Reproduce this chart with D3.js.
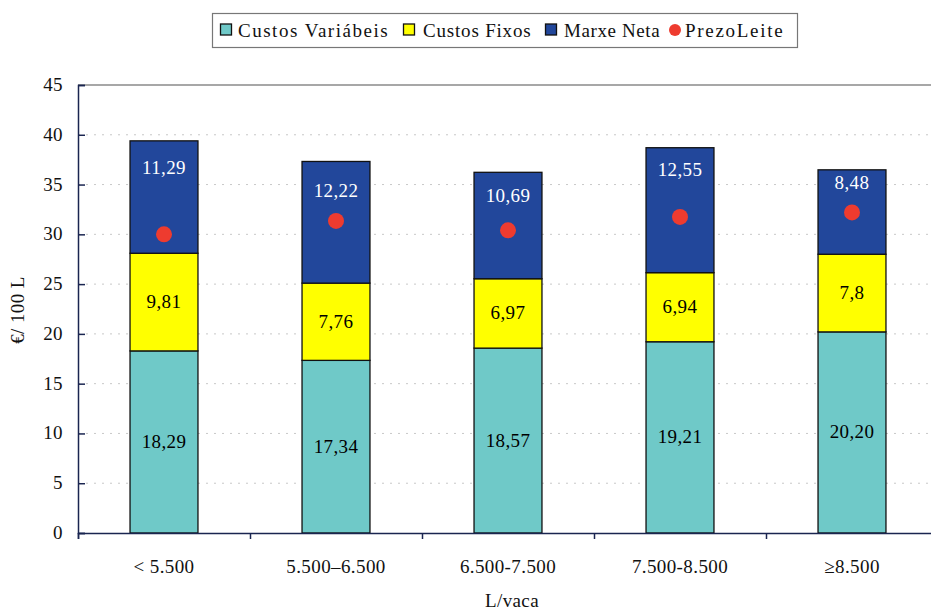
<!DOCTYPE html>
<html>
<head>
<meta charset="utf-8">
<script src="https://cdn.jsdelivr.net/npm/d3@7"></script>
<style>
  body { margin: 0; background: #fff; }
</style>
</head>
<body>
<div id="chart"></div>
<script>
const categories = ["< 5.500", "5.500–6.500", "6.500-7.500", "7.500-8.500", "≥8.500"];
const custosVariabeis = [18.29, 17.34, 18.57, 19.21, 20.20];
const custosFixos = [9.81, 7.76, 6.97, 6.94, 7.8];
const marxeNeta = [11.29, 12.22, 10.69, 12.55, 8.48];
const prezoLeite = [30.0, 31.35, 30.4, 31.75, 32.2];
const yTicks = [0, 5, 10, 15, 20, 25, 30, 35, 40, 45];

const labelVar = ["18,29", "17,34", "18,57", "19,21", "20,20"];
const labelFix = ["9,81", "7,76", "6,97", "6,94", "7,8"];
const labelNet = ["11,29", "12,22", "10,69", "12,55", "8,48"];

const width = 931;
const height = 611;
const margin = {top: 85, left: 78, bottom: 78};
const plotW = 860;
const font = "'Liberation Serif', 'Times New Roman', serif";
const fs = 19;
// the net-margin labels were nudged by hand in the source chart
const netLabelDy = [33, 36, 30, 28, 19];

const svg = d3.select("#chart").append("svg")
  .attr("width", width)
  .attr("height", height)
  .style("font-family", font)
  .style("letter-spacing", "0.4px");

const x = d3.scaleBand()
  .domain(categories)
  .range([margin.left, margin.left + plotW])
  .paddingInner(0.605)
  .paddingOuter(0.3025);

const y = d3.scaleLinear()
  .domain([0, 45])
  .range([height - margin.bottom, margin.top]);

// gridlines
svg.append("g")
  .selectAll("line")
  .data(yTicks.filter(d => d > 0 && d < 45))
  .join("line")
  .attr("x1", margin.left)
  .attr("x2", margin.left + plotW)
  .attr("y1", d => y(d))
  .attr("y2", d => y(d))
  .attr("stroke", "#c8c8c8")
  .attr("stroke-width", 1)
  .attr("stroke-dasharray", "2,6");

// top border
svg.append("line")
  .attr("x1", margin.left)
  .attr("x2", margin.left + plotW)
  .attr("y1", y(45))
  .attr("y2", y(45))
  .attr("stroke", "#8a8a8a")
  .attr("stroke-width", 1.5);

const stacks = [
  {vals: custosVariabeis, base: categories.map(() => 0), color: "#6fc9c8", labels: labelVar, text: "#000"},
  {vals: custosFixos, base: custosVariabeis, color: "#ffff00", labels: labelFix, text: "#000"},
  {vals: marxeNeta, base: custosVariabeis.map((v, i) => v + custosFixos[i]), color: "#22479b", labels: labelNet, text: "#fff"}
];

stacks.forEach((s, k) => {
  const g = svg.append("g");
  g.selectAll("rect")
    .data(categories)
    .join("rect")
    .attr("x", d => x(d))
    .attr("width", x.bandwidth())
    .attr("y", (d, i) => y(s.base[i] + s.vals[i]))
    .attr("height", (d, i) => y(s.base[i]) - y(s.base[i] + s.vals[i]))
    .attr("fill", s.color)
    .attr("stroke", "#111")
    .attr("stroke-width", 1.3);
  g.selectAll("text")
    .data(categories)
    .join("text")
    .attr("x", d => x(d) + x.bandwidth() / 2)
    .attr("y", (d, i) => k === 2
      ? y(s.base[i] + s.vals[i]) + netLabelDy[i]
      : (y(s.base[i]) + y(s.base[i] + s.vals[i])) / 2 + 6)
    .attr("text-anchor", "middle")
    .attr("font-size", fs)
    .attr("fill", s.text)
    .text((d, i) => s.labels[i]);
});

// price dots
svg.append("g")
  .selectAll("circle")
  .data(categories)
  .join("circle")
  .attr("cx", d => x(d) + x.bandwidth() / 2)
  .attr("cy", (d, i) => y(prezoLeite[i]))
  .attr("r", 8)
  .attr("fill", "#ee3b2f");

// y axis
const yAxis = svg.append("g")
  .attr("transform", `translate(${margin.left},0)`)
  .call(d3.axisRight(y).tickValues(yTicks).tickSize(7).tickFormat(""));
yAxis.select(".domain").attr("stroke", "#1a2550").attr("stroke-width", 1.5);
yAxis.selectAll(".tick line").attr("stroke", "#1a2550").attr("stroke-width", 1.5);

svg.append("g")
  .selectAll("text")
  .data(yTicks)
  .join("text")
  .attr("x", 63)
  .attr("y", d => y(d) + 6)
  .attr("text-anchor", "end")
  .attr("font-size", fs)
  .attr("fill", "#111")
  .text(d => d);

// x axis
const xAxis = svg.append("g")
  .attr("transform", `translate(0,${y(0)})`)
  .call(d3.axisBottom(d3.scaleLinear().domain([0, 5]).range([margin.left, margin.left + plotW]))
    .tickValues([0, 1, 2, 3, 4, 5]).tickSize(6).tickFormat(""));
xAxis.select(".domain").attr("stroke", "#1a2550").attr("stroke-width", 1.5);
xAxis.selectAll(".tick line").attr("stroke", "#1a2550").attr("stroke-width", 1.5);

svg.append("g")
  .selectAll("text")
  .data(categories)
  .join("text")
  .attr("x", d => x(d) + x.bandwidth() / 2)
  .attr("y", 573)
  .attr("text-anchor", "middle")
  .attr("font-size", fs)
  .attr("fill", "#111")
  .text(d => d);

// axis titles
svg.append("text")
  .attr("x", 512)
  .attr("y", 607)
  .attr("text-anchor", "middle")
  .attr("font-size", fs)
  .attr("fill", "#111")
  .text("L/vaca");

svg.append("text")
  .attr("transform", "translate(24,310) rotate(-90)")
  .attr("text-anchor", "middle")
  .attr("font-size", fs)
  .attr("fill", "#111")
  .text("€/ 100 L");

// legend
const legend = svg.append("g");
legend.append("rect")
  .attr("x", 212.5).attr("y", 13.5)
  .attr("width", 585).attr("height", 34)
  .attr("fill", "#fff").attr("stroke", "#777").attr("stroke-width", 1.2);

const legendItems = [
  {name: "Custos Variábeis", color: "#6fc9c8", sx: 226, tx: 238, w: 150},
  {name: "Custos Fixos", color: "#ffff00", sx: 409, tx: 423, w: 108},
  {name: "Marxe Neta", color: "#22479b", sx: 551, tx: 564, w: 96},
  {name: "PrezoLeite", color: "#ee3b2f", sx: 675, tx: 685, w: 98, dot: true}
];
legendItems.forEach(it => {
  if (it.dot) {
    legend.append("circle").attr("cx", it.sx).attr("cy", 30).attr("r", 6).attr("fill", it.color);
  } else {
    legend.append("rect").attr("x", it.sx - 5.5).attr("y", 24)
      .attr("width", 11).attr("height", 11)
      .attr("fill", it.color).attr("stroke", "#111").attr("stroke-width", 1.3);
  }
  legend.append("text")
    .attr("x", it.tx).attr("y", 37)
    .attr("font-size", fs)
    .attr("textLength", it.w)
    .attr("lengthAdjust", "spacing")
    .attr("fill", "#111")
    .text(it.name);
});
</script>
</body>
</html>
